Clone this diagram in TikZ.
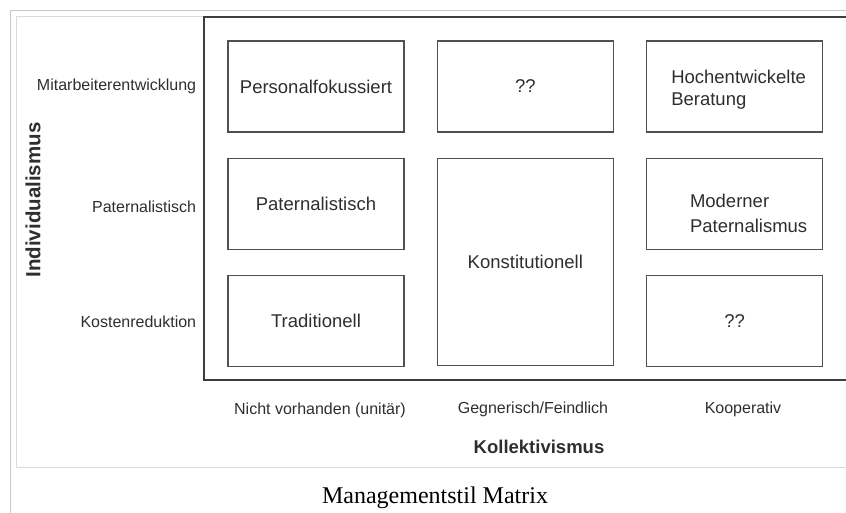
\documentclass[tikz,border=0pt]{standalone}
\usepackage{fontspec}
\setmainfont{Liberation Sans}
\newfontfamily\captionfont{Liberation Serif}
\usetikzlibrary{positioning}

\definecolor{boxgray}{HTML}{505050}
\definecolor{framegray}{HTML}{3E3E3E}
\definecolor{textgray}{HTML}{2E2E2E}
\definecolor{thumbgray}{HTML}{C8C8C8}
\definecolor{imggray}{HTML}{DADADA}

\tikzset{
  cell/.style={draw=boxgray, line width=1.3pt, minimum width=176pt, minimum height=91pt,
    inner sep=0pt, text=textgray, align=center, font=\fontsize{18.5}{23}\selectfont},
  celltext/.style={text=textgray, inner sep=0pt, font=\fontsize{18.5}{25}\selectfont},
  rowlabel/.style={anchor=east, inner sep=0pt, text=textgray, font=\fontsize{16}{19}\selectfont},
  collabel/.style={text=textgray, inner sep=0pt, font=\fontsize{16}{19}\selectfont},
  axislabel/.style={text=textgray, inner sep=0pt, font=\bfseries\fontsize{18.5}{22}\selectfont},
}

\begin{document}
\begin{tikzpicture}[x=1pt,y=-1pt,node distance=25pt and 32pt]
\useasboundingbox (0,0) rectangle (846,513);

% thumbnail frame
\draw[thumbgray] (10.5,513) -- (10.5,10.5) -- (846,10.5);
\draw[imggray] (846,16.5) -- (16.5,16.5) -- (16.5,467) -- (846,467);

% matrix frame, open to the right
\draw[framegray, line width=2pt] (846,17) -- (204,17) -- (204,380) -- (846,380);

% cells
\node[cell] (pers) at (316,86.5) {Personalfokussiert};
\node[cell] (unkA) [right=of pers] {??};
\node[cell] (hoch) [right=of unkA] {};
\node[cell] (patb) [below=of pers] {Paternalistisch};
\node[cell] (trad) [below=of patb] {Traditionell};
\node[cell, minimum height=207pt] (konst) [below=of unkA] {Konstitutionell};
\node[cell] (modp) [below=of hoch] {};
\node[cell] (unkB) [below=of modp] {??};

\node[celltext, align=left, font=\fontsize{18.5}{21.5}\selectfont] (hochtext) at ([xshift=4pt,yshift=-3pt]hoch.center) {Hochentwickelte\\Beratung};
\node[celltext, align=left] (modptext) at ([xshift=14pt,yshift=-10pt]modp.center) {Moderner\\Paternalismus};

% row labels
\node[rowlabel] (entw) at ([xshift=-31pt]pers.west) {Mitarbeiterentwicklung};
\node[rowlabel] (patl) at ([xshift=-31pt,yshift=-3pt]patb.west) {Paternalistisch};
\node[rowlabel] (kost) at ([xshift=-31pt,yshift=-1pt]trad.west) {Kostenreduktion};

% column labels
\node[collabel] (unit) at (320,410) {Nicht vorhanden (unitär)};
\node[collabel] (gegn) at (533,409) {Gegnerisch/Feindlich};
\node[collabel] (koop) at (743,409) {Kooperativ};

% axes
\node[axislabel, font=\bfseries\fontsize{20.5}{24}\selectfont] (indiv) at (33,200) [rotate=90] {Individualismus};
\node[axislabel] (koll) at (539,447) {Kollektivismus};

% caption
\node[text=black, inner sep=0pt, font=\captionfont\fontsize{24}{28}\selectfont] (capt) at (435,498) {Managementstil Matrix};
\end{tikzpicture}
\end{document}
